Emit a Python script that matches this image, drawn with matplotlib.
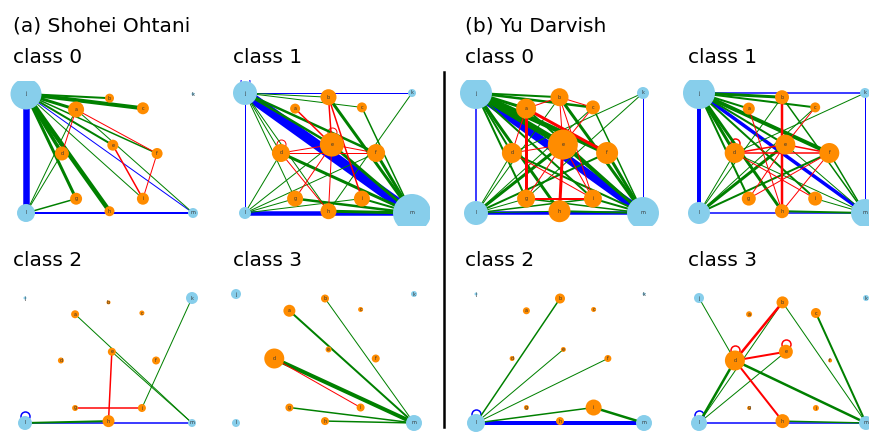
import matplotlib
matplotlib.use("Agg")
import matplotlib.pyplot as plt
from matplotlib.collections import LineCollection
from matplotlib.transforms import offset_copy

# node set: a..i are pitch locations (orange), j..m the outer corners (blue)
nodes = ["a", "b", "c", "d", "e", "f", "g", "h", "i", "j", "k", "l", "m"]
corner_nodes = {"j", "k", "l", "m"}

layout_x = [0.30, 0.50, 0.70, 0.215, 0.52, 0.785, 0.30, 0.50, 0.70, 0.0, 1.0, 0.0, 1.0]
layout_y = [0.13, 0.035, 0.12, 0.50, 0.43, 0.50, 0.88, 0.985, 0.88, 0.0, 0.0, 1.0, 1.0]

# node weights (a..m) per class
ohtani_c0_size = [8, 4.5, 6, 7, 5.5, 5.5, 6, 5, 6, 15.5, 1.5, 9, 5]
ohtani_c1_size = [5, 8, 5, 9, 12, 9, 8, 8, 8, 12, 4, 6, 19]
ohtani_c2_size = [4, 2, 2.5, 3, 4, 4, 3, 6, 4, 1.5, 6, 7, 4]
ohtani_c3_size = [6, 4, 2.5, 10, 3, 4, 4, 4, 4, 5, 3, 4, 8]
darvish_c0_size = [10, 9, 7, 10, 15, 11, 9, 11, 9, 16, 6, 12, 16]
darvish_c1_size = [6, 7, 5, 10, 10, 10, 7, 7, 7, 16, 5, 11, 14]
darvish_c2_size = [3.5, 5, 2.5, 2.5, 2.5, 3.5, 2.5, 4, 8, 1.5, 1.5, 9, 8]
darvish_c3_size = [3, 6, 5, 10, 7, 2, 2, 7, 3, 5, 3, 8, 7]

# transition edges (from, to, weight)
ohtani_c0_edges = [
    ("j", "l", 6.5), ("l", "m", 2), ("j", "m", 1),
    ("j", "b", 2), ("j", "c", 4), ("j", "a", 3), ("j", "d", 3.5), ("j", "g", 3),
    ("j", "h", 4.5), ("j", "e", 2), ("j", "f", 1.5), ("j", "i", 1),
    ("l", "a", 1), ("l", "d", 1), ("l", "g", 1.5), ("a", "m", 1),
    ("a", "d", 1), ("a", "f", 1), ("e", "i", 1.5), ("f", "i", 1),
]
ohtani_c1_edges = [
    ("j", "m", 10), ("l", "m", 4.5), ("j", "k", 1), ("j", "l", 1), ("j", "j", 1),
    ("j", "b", 1), ("j", "c", 1), ("j", "d", 1), ("j", "g", 1), ("j", "h", 1),
    ("j", "e", 2.5), ("j", "f", 2.5), ("b", "m", 3), ("c", "m", 1.5), ("k", "h", 1),
    ("d", "m", 3), ("e", "m", 3), ("f", "m", 3), ("g", "m", 2.5), ("h", "m", 3),
    ("i", "m", 2), ("l", "d", 1), ("l", "e", 1), ("l", "f", 1), ("l", "g", 1),
    ("l", "i", 1),
    ("a", "e", 1.5), ("b", "e", 1.5), ("b", "i", 1.5), ("d", "e", 1), ("d", "f", 1),
    ("e", "f", 1), ("e", "g", 1), ("e", "h", 1), ("d", "h", 1), ("d", "d", 1),
    ("e", "e", 1),
]
ohtani_c2_edges = [
    ("l", "m", 1.5), ("l", "l", 1.5), ("l", "h", 2), ("a", "m", 1), ("e", "m", 1),
    ("k", "i", 1), ("e", "h", 1.5), ("g", "i", 1.5),
]
ohtani_c3_edges = [
    ("a", "m", 2), ("b", "m", 1), ("d", "m", 4), ("g", "m", 1.5), ("h", "m", 1.5),
    ("d", "i", 1),
]
darvish_c0_edges = [
    ("j", "m", 8), ("l", "m", 3.5), ("j", "l", 1.5), ("k", "m", 1),
    ("j", "a", 3), ("j", "b", 2), ("j", "c", 2.5), ("j", "d", 2), ("j", "e", 6),
    ("j", "f", 5), ("j", "g", 2), ("j", "h", 3), ("j", "i", 2),
    ("k", "d", 1), ("k", "g", 1),
    ("l", "e", 3), ("l", "f", 2), ("l", "c", 1), ("l", "b", 1), ("l", "d", 1),
    ("l", "g", 1), ("l", "h", 1), ("l", "i", 1.5),
    ("a", "m", 2), ("b", "m", 3), ("c", "m", 1.5), ("d", "m", 2), ("e", "m", 3),
    ("f", "m", 3), ("g", "m", 1.5), ("h", "m", 2), ("i", "m", 2),
    ("a", "f", 3), ("a", "g", 3), ("e", "h", 3), ("g", "i", 2), ("a", "b", 1),
    ("b", "c", 1), ("b", "e", 1), ("c", "e", 1), ("d", "e", 1), ("a", "d", 1),
    ("e", "g", 1), ("e", "i", 1), ("d", "i", 1), ("b", "i", 1),
]
darvish_c1_edges = [
    ("j", "m", 3.5), ("j", "l", 4), ("j", "k", 1.5), ("l", "m", 1.5), ("k", "m", 1),
    ("j", "a", 2), ("j", "b", 3), ("j", "c", 2), ("j", "d", 3), ("j", "e", 2),
    ("j", "f", 4), ("j", "g", 2), ("j", "h", 3), ("j", "i", 2),
    ("l", "b", 1), ("l", "d", 1), ("l", "e", 3), ("l", "f", 2), ("l", "c", 1),
    ("k", "d", 1), ("b", "m", 1.5), ("d", "m", 1), ("e", "m", 1), ("f", "m", 1.5),
    ("i", "m", 1), ("h", "m", 2),
    ("b", "h", 2.5), ("d", "e", 1.5), ("d", "f", 1.5), ("e", "f", 1.5), ("d", "i", 1),
    ("a", "h", 1), ("c", "e", 1), ("e", "g", 1), ("f", "h", 1), ("f", "g", 1),
    ("d", "d", 1.5),
]
darvish_c2_edges = [
    ("l", "m", 4), ("l", "l", 1.5), ("l", "b", 1.5), ("l", "e", 1), ("l", "f", 1),
    ("l", "i", 1.5), ("i", "m", 2.5),
]
darvish_c3_edges = [
    ("l", "m", 1.5), ("l", "l", 1.5), ("j", "d", 1), ("b", "l", 1), ("b", "m", 1),
    ("c", "m", 2), ("d", "l", 2.5), ("d", "m", 2.5), ("e", "l", 1), ("h", "m", 1.5),
    ("b", "d", 2.5), ("d", "e", 2), ("d", "h", 2), ("d", "d", 1.5), ("e", "e", 1.5),
]

panel_titles = ["class 0", "class 1", "class 2", "class 3"]
player_titles = ["(a) Shohei Ohtani", "(b) Yu Darvish"]

W, H = 870, 432
fig = plt.figure(figsize=(W / 100, H / 100), dpi=100)
plt.rcParams["font.family"] = ["DejaVu Sans"]

pos = {n: (x, y) for n, x, y in zip(nodes, layout_x, layout_y)}
px2pt = 0.72
pad = 0.11


def edge_color(u, v):
    cu, cv = u in corner_nodes, v in corner_nodes
    if cu and cv:
        return "blue"
    if not cu and not cv:
        return "red"
    return "green"


def draw_graph(box, sizes, edges):
    # box = node extent in pixels: left, right, top, bottom
    x0, x1, y0, y1 = box
    bw, bh = x1 - x0, y1 - y0
    left = x0 - pad * bw
    right = x1 + pad * bw
    top = y0 - pad * bh
    bottom = y1 + pad * bh
    ax = fig.add_axes([left / W, 1 - bottom / H, (right - left) / W, (bottom - top) / H])
    ax.set_xlim(-pad, 1 + pad)
    ax.set_ylim(1 + pad, -pad)
    ax.set_axis_off()

    radius = dict(zip(nodes, sizes))
    segs, cols, lws = [], [], []
    for u, v, w in edges:
        if u == v:
            # self transition: small loop resting on top of the node
            r = radius[u]
            tr = offset_copy(ax.transData, fig=fig, x=0, y=(r + 0.5) * px2pt, units="points")
            ax.plot(pos[u][0], pos[u][1], marker="o", ms=9 * px2pt, mfc="none",
                    mec=edge_color(u, v), mew=w * px2pt, transform=tr, zorder=1)
            continue
        segs.append([pos[u], pos[v]])
        cols.append(edge_color(u, v))
        lws.append(w * px2pt)
    ax.add_collection(LineCollection(segs, colors=cols, linewidths=lws, zorder=1))

    xs = [pos[n][0] for n in nodes]
    ys = [pos[n][1] for n in nodes]
    fc = ["skyblue" if n in corner_nodes else "darkorange" for n in nodes]
    ss = [(2 * r * px2pt) ** 2 for r in sizes]
    ax.scatter(xs, ys, s=ss, c=fc, linewidths=0, zorder=2)
    for n in nodes:
        ax.text(pos[n][0], pos[n][1], n, fontsize=3.5, color="#333333",
                ha="center", va="center", zorder=3)
    return ax


panels = [
    ((26, 193, 94, 213), ohtani_c0_size, ohtani_c0_edges),
    ((245, 412, 93, 213), ohtani_c1_size, ohtani_c1_edges),
    ((25, 192, 298, 423), ohtani_c2_size, ohtani_c2_edges),
    ((236, 414, 294, 423), ohtani_c3_size, ohtani_c3_edges),
    ((476, 643, 93, 213), darvish_c0_size, darvish_c0_edges),
    ((699, 865, 93, 213), darvish_c1_size, darvish_c1_edges),
    ((476, 644, 294, 423), darvish_c2_size, darvish_c2_edges),
    ((699, 866, 298, 423), darvish_c3_size, darvish_c3_edges),
]
for box, sizes, edges in panels:
    draw_graph(box, sizes, edges)

# headings
title_kw = dict(fontsize=14.5, va="baseline", ha="left", color="black")
fig.text(13 / W, 1 - 32 / H, player_titles[0], **title_kw)
fig.text(465 / W, 1 - 32 / H, player_titles[1], **title_kw)
title_x = [13, 233, 465, 688]
for col, x in enumerate(title_x):
    k = col % 2
    fig.text(x / W, 1 - 63 / H, panel_titles[k], **title_kw)
    fig.text(x / W, 1 - 266 / H, panel_titles[k + 2], **title_kw)

# divider between the two pitchers
fig.add_artist(plt.Line2D([444 / W, 444 / W], [1 - 72 / H, 1 - 427 / H],
                          color="black", linewidth=1.8))

fig.savefig("out.png", dpi=100)
